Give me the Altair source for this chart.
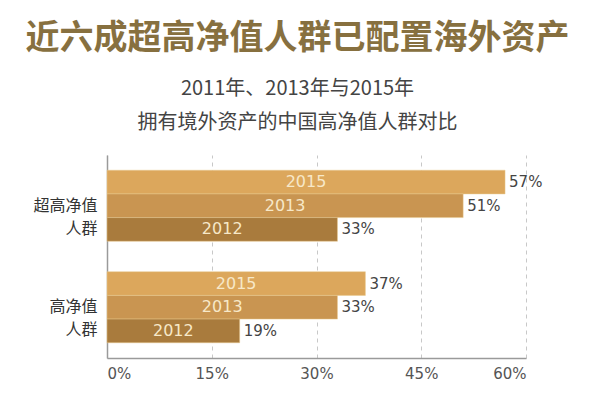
import altair as alt
import pandas as pd

groups = ["超高净值|人群", "高净值|人群"]
years = ["2015", "2013", "2012"]
values_super = [0.57, 0.51, 0.33]
values_high = [0.37, 0.33, 0.19]
x_ticks = [0, 0.15, 0.30, 0.45, 0.60]
bar_colors = ["#dca75c", "#c99551", "#a97b3d"]

rows = []
for g, vals in zip(groups, [values_super, values_high]):
    for y, v in zip(years, vals):
        rows.append({"group": g, "year": y, "value": v})
df = pd.DataFrame(rows)

cjk = "Noto Sans CJK SC"
num_font = "DejaVu Sans"

base = alt.Chart(df).encode(
    y=alt.Y(
        "group:N",
        sort=groups,
        title=None,
        scale=alt.Scale(paddingInner=0.3, paddingOuter=0.15),
        axis=alt.Axis(
            labelExpr="split(datum.label, '|')",
            labelFont=cjk,
            labelFontSize=16,
            labelColor="#333333",
            labelLineHeight=23,
            labelPadding=10,
            ticks=False,
            domainColor="#9a9a9a",
            domainWidth=1.5,
            grid=False,
        ),
    ),
    yOffset=alt.YOffset("year:N", sort=years, scale=alt.Scale(paddingInner=0)),
)

bars = base.mark_bar(stroke="#e9c98f", strokeWidth=0.5).encode(
    x=alt.X(
        "value:Q",
        title=None,
        scale=alt.Scale(domain=[0, 0.6], nice=False),
        axis=alt.Axis(
            values=x_ticks,
            format=".0%",
            labelFont=num_font,
            labelFontSize=15,
            labelColor="#555555",
            labelPadding=8,
            ticks=False,
            domainColor="#9a9a9a",
            domainWidth=1.5,
            gridColor="#c8c8c8",
            gridDash=[4, 4],
            gridWidth=1,
        ),
    ),
    color=alt.Color("year:N", scale=alt.Scale(domain=years, range=bar_colors), legend=None),
)

inner = base.mark_text(font=num_font, fontSize=16, color="#f7e8c8", align="center", baseline="middle").transform_calculate(
    mid="datum.value / 2"
).encode(x="mid:Q", text="year:N")

outer = base.mark_text(font=num_font, fontSize=15, color="#444444", align="left", baseline="middle", dx=4).encode(
    x="value:Q", text=alt.Text("value:Q", format=".0%")
)

chart = (
    alt.layer(bars, inner, outer)
    .properties(
        width=419,
        height=203,
        autosize=alt.AutoSizeParams(type="none"),
        padding={"left": 99, "top": 147, "right": 66, "bottom": 34},
        title=alt.Title(
            text="近六成超高净值人群已配置海外资产",
            subtitle=["2011年、2013年与2015年", "拥有境外资产的中国高净值人群对比"],
            font=cjk,
            fontSize=34,
            fontWeight="bold",
            color="#87703f",
            subtitleFont=cjk,
            subtitleFontSize=20,
            subtitleColor="#444444",
            subtitleLineHeight=34,
            subtitlePadding=23,
            offset=22,
            anchor="middle",
            frame="group",
            dx=-19,
        ),
    )
    .configure_view(stroke=None)
)

chart.save("out.html", embed_options={"renderer": "svg", "actions": False})
